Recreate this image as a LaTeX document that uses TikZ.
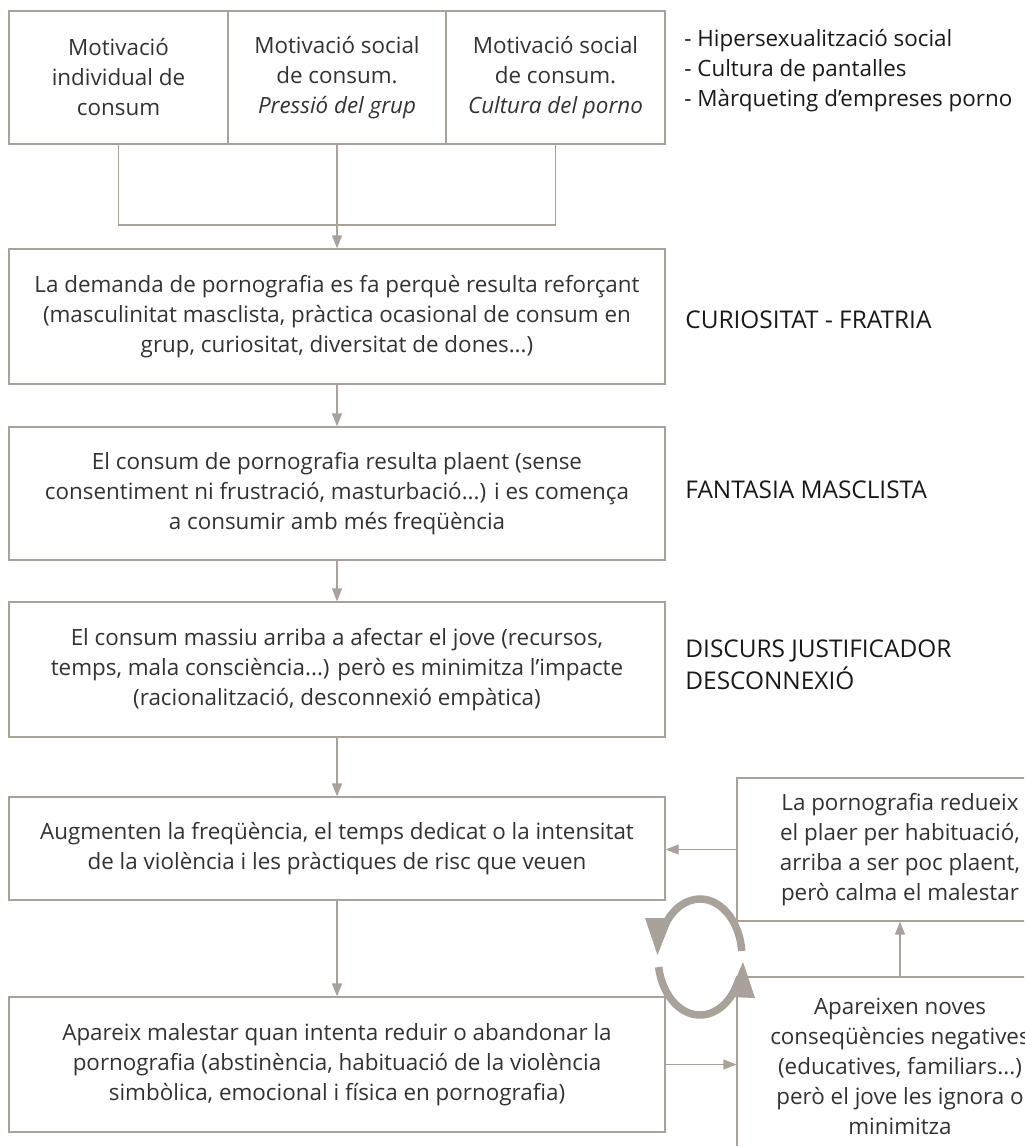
\documentclass[tikz,border=0pt]{standalone}
\usepackage{fontspec}
\setmainfont{Open Sans}
\usetikzlibrary{arrows.meta}
\definecolor{frame}{RGB}{168,162,154}
\definecolor{boxtext}{RGB}{50,50,50}

\begin{document}
\begin{tikzpicture}[x=0.5pt,y=-0.5pt,
  every node/.style={font=\fontsize{11.2}{15}\selectfont, inner sep=0pt},
  box/.style={draw=frame, line width=0.6pt, align=center, text=boxtext},
  motive/.style={box, minimum width=109.5pt, minimum height=66.5pt},
  stage/.style={box, minimum width=328pt, minimum height=#1},
  side/.style={box, minimum width=163pt, minimum height=#1},
  tag/.style={anchor=west, align=left, text=black!90},
  heading/.style={tag, font=\fontsize{12.2}{16}\selectfont},
  link/.style={draw=frame, line width=0.6pt},
  flow/.style={link, -{Triangle[length=6.5pt,width=5pt]}},
  ring/.style={draw=frame, line width=3.75pt}]
\clip (0,0) rectangle (1024,1146);

\node[motive] (mi) at (118.5,77.5) {Motivació\\individual de\\consum};
\node[motive] (ms) at (337,77.5) {Motivació social\\de consum.\\\textit{Pressió del grup}};
\node[motive] (mc) at (555.5,77.5) {Motivació social\\de consum.\\\textit{Cultura del porno}};
\node[tag] (factors) at (684,71) {- Hipersexualització social\\- Cultura de pantalles\\- Màrqueting d’empreses porno};

\node[stage=67.5pt] (dem) at (337,316.5) {La demanda de pornografia es fa perquè resulta reforçant\\(masculinitat masclista, pràctica ocasional de consum en\\grup, curiositat, diversitat de dones...)};
\node[stage=66.5pt] (plaer) at (337,493.5) {El consum de pornografia resulta plaent (sense\\consentiment ni frustració, masturbació...) i es comença\\a consumir amb més freqüència};
\node[stage=67.5pt] (massiu) at (337,669.5) {El consum massiu arriba a afectar el jove (recursos,\\temps, mala consciència...) però es minimitza l’impacte\\(racionalització, desconnexió empàtica)};
\node[stage=51.5pt] (augm) at (337,848.5) {Augmenten la freqüència, el temps dedicat o la intensitat\\de la violència i les pràctiques de risc que veuen};
\node[stage=67.5pt] (males) at (337,1064.5) {Apareix malestar quan intenta reduir o abandonar la\\pornografia (abstinència, habituació de la violència\\simbòlica, emocional i física en pornografia)};

\node[side=71.5pt] (redueix) at (900,849.5) {La pornografia redueix\\el plaer per habituació,\\arriba a ser poc plaent,\\però calma el malestar};
\node[side=89.5pt] (noves) at (900,1066.5) {Apareixen noves\\conseqüències negatives\\(educatives, familiars...)\\però el jove les ignora o\\minimitza};

\node[heading] (curio) at (685,320) {CURIOSITAT - FRATRIA};
\node[heading] (fanta) at (685,490) {FANTASIA MASCLISTA};
\node[heading] (discurs) at (685,665) {DISCURS JUSTIFICADOR\\DESCONNEXIÓ};

\coordinate (join) at (337,225);
\draw[link] (mi.south) |- (join) -| (mc.south);
\draw[flow] (ms.south) -- (dem.north);
\foreach \a/\b in {dem/plaer, plaer/massiu, massiu/augm, augm/males}
  \draw[flow] (\a.south) -- (\b.north);
\draw[flow] (redueix.west) -- (redueix.west -| augm.east);
\draw[flow] (males.east) -- (males.east -| noves.west);
\draw[flow] (noves.north) -- (redueix.south);

\draw[ring] (700,957) ++(-6:42 and 58) arc[start angle=-6, end angle=-155, x radius=42, y radius=58];
\fill[frame] (645,918) -- (672,918) -- (657.5,955) -- cycle;
\draw[ring] (700,957) ++(170:42 and 58) arc[start angle=170, end angle=22, x radius=42, y radius=58];
\fill[frame] (728,997) -- (755,998) -- (743,962) -- cycle;
\end{tikzpicture}
\end{document}
